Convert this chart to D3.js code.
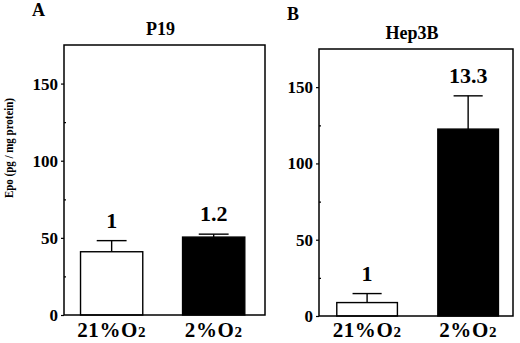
<!DOCTYPE html>
<html>
<head>
<meta charset="utf-8">
<script src="https://cdn.jsdelivr.net/npm/d3@7"></script>
<style>
  body { margin: 0; background: #fff; }
  svg text { font-family: "Liberation Serif", "DejaVu Serif", serif !important; font-weight: bold; fill: #000; }
</style>
</head>
<body>
<div id="chart"></div>
<script>
// data
const panelLetters = ["A", "B"];
const panelTitles = ["P19", "Hep3B"];
const categories = ["21%O2", "2%O2"];
const p19Values = [41, 50.5];
const p19Err = [7.2, 1.9];
const p19Fold = ["1", "1.2"];
const hep3bValues = [8.8, 122.5];
const hep3bErr = [5.9, 21.8];
const hep3bFold = ["1", "13.3"];
const yMajorTicks = [0, 50, 100, 150];
const yMinorTicks = [25, 75, 125];

const width = 520, height = 343;
const svg = d3.select("#chart").append("svg")
    .attr("width", width)
    .attr("height", height);

// frame boxes for the two panels
const panels = [
  { letter: panelLetters[0], title: panelTitles[0], values: p19Values, err: p19Err, fold: p19Fold,
    x0: 64, x1: 265, y0: 45, y1: 315, padIn: 0.39, padOut: 0.18, align: 0.45 },
  { letter: panelLetters[1], title: panelTitles[1], values: hep3bValues, err: hep3bErr, fold: hep3bFold,
    x0: 319, x1: 513, y0: 49, y1: 316, padIn: 0.4, padOut: 0.16, align: 0.55 }
];

panels.forEach(p => {
  const g = svg.append("g");

  const x = d3.scaleBand()
      .domain(categories)
      .range([p.x0, p.x1])
      .paddingInner(p.padIn)
      .paddingOuter(p.padOut)
      .align(p.align);

  const y = d3.scaleLinear()
      .domain([0, 175])
      .range([p.y1, p.y0]);

  // bars
  g.selectAll("rect.bar")
    .data(p.values)
    .join("rect")
      .attr("class", "bar")
      .attr("x", (d, i) => x(categories[i]))
      .attr("y", d => y(d))
      .attr("width", x.bandwidth())
      .attr("height", d => y(0) - y(d))
      .attr("fill", (d, i) => i === 0 ? "#fff" : "#000")
      .attr("stroke", "#000")
      .attr("stroke-width", 1.4);

  // error bars (upper only)
  const cap = x.bandwidth() * 0.24;
  p.values.forEach((v, i) => {
    const cx = x(categories[i]) + x.bandwidth() / 2;
    g.append("line")
      .attr("x1", cx).attr("x2", cx)
      .attr("y1", y(v)).attr("y2", y(v + p.err[i]))
      .attr("stroke", "#000").attr("stroke-width", 1.4);
    g.append("line")
      .attr("x1", cx - cap).attr("x2", cx + cap)
      .attr("y1", y(v + p.err[i])).attr("y2", y(v + p.err[i]))
      .attr("stroke", "#000").attr("stroke-width", 1.4);
    // fold label
    g.append("text")
      .attr("x", cx)
      .attr("y", y(v + p.err[i]) - 13)
      .attr("text-anchor", "middle")
      .style("font-size", "22px")
      .text(p.fold[i]);
  });

  // frame
  g.append("rect")
    .attr("x", p.x0).attr("y", p.y0)
    .attr("width", p.x1 - p.x0).attr("height", p.y1 - p.y0)
    .attr("fill", "none")
    .attr("stroke", "#000")
    .attr("stroke-width", 1.5);

  // y axis: major ticks outward, minor inward
  const yAxis = g.append("g")
    .attr("transform", `translate(${p.x0},0)`)
    .call(d3.axisLeft(y).tickValues(yMajorTicks).tickSize(3).tickPadding(3));
  yAxis.select(".domain").remove();
  yAxis.selectAll("text").style("font-size", "17px");
  yAxis.selectAll("line").attr("stroke-width", 1.2);

  g.append("g")
    .attr("transform", `translate(${p.x0},0)`)
    .call(d3.axisRight(y).tickValues(yMinorTicks).tickSize(2).tickFormat(""))
    .call(a => a.select(".domain").remove())
    .selectAll("line").attr("stroke-width", 1.2);

  // category labels with small "2"
  categories.forEach(c => {
    const t = g.append("text")
      .attr("x", x(c) + x.bandwidth() / 2)
      .attr("y", 337)
      .attr("text-anchor", "middle")
      .style("font-size", "21px")
      .style("letter-spacing", "0.6px");
    t.append("tspan").text(c.slice(0, -1));
    t.append("tspan").style("font-size", "15px").text(c.slice(-1));
  });

  // title and panel letter
  g.append("text")
    .attr("x", (p.x0 + p.x1) / 2 - 4)
    .attr("y", p.y0 - 10)
    .attr("text-anchor", "middle")
    .style("font-size", "18px")
    .text(p.title);

  g.append("text")
    .attr("x", p.x0 - 32)
    .attr("y", p.y0 - 29)
    .style("font-size", "18px")
    .text(p.letter);
});

// y axis title
svg.append("text")
  .attr("transform", "translate(13,148) rotate(-90)")
  .attr("text-anchor", "middle")
  .attr("textLength", 100)
  .attr("lengthAdjust", "spacingAndGlyphs")
  .style("font-size", "13.5px")
  .text("Epo (pg / mg protein)");
</script>
</body>
</html>
